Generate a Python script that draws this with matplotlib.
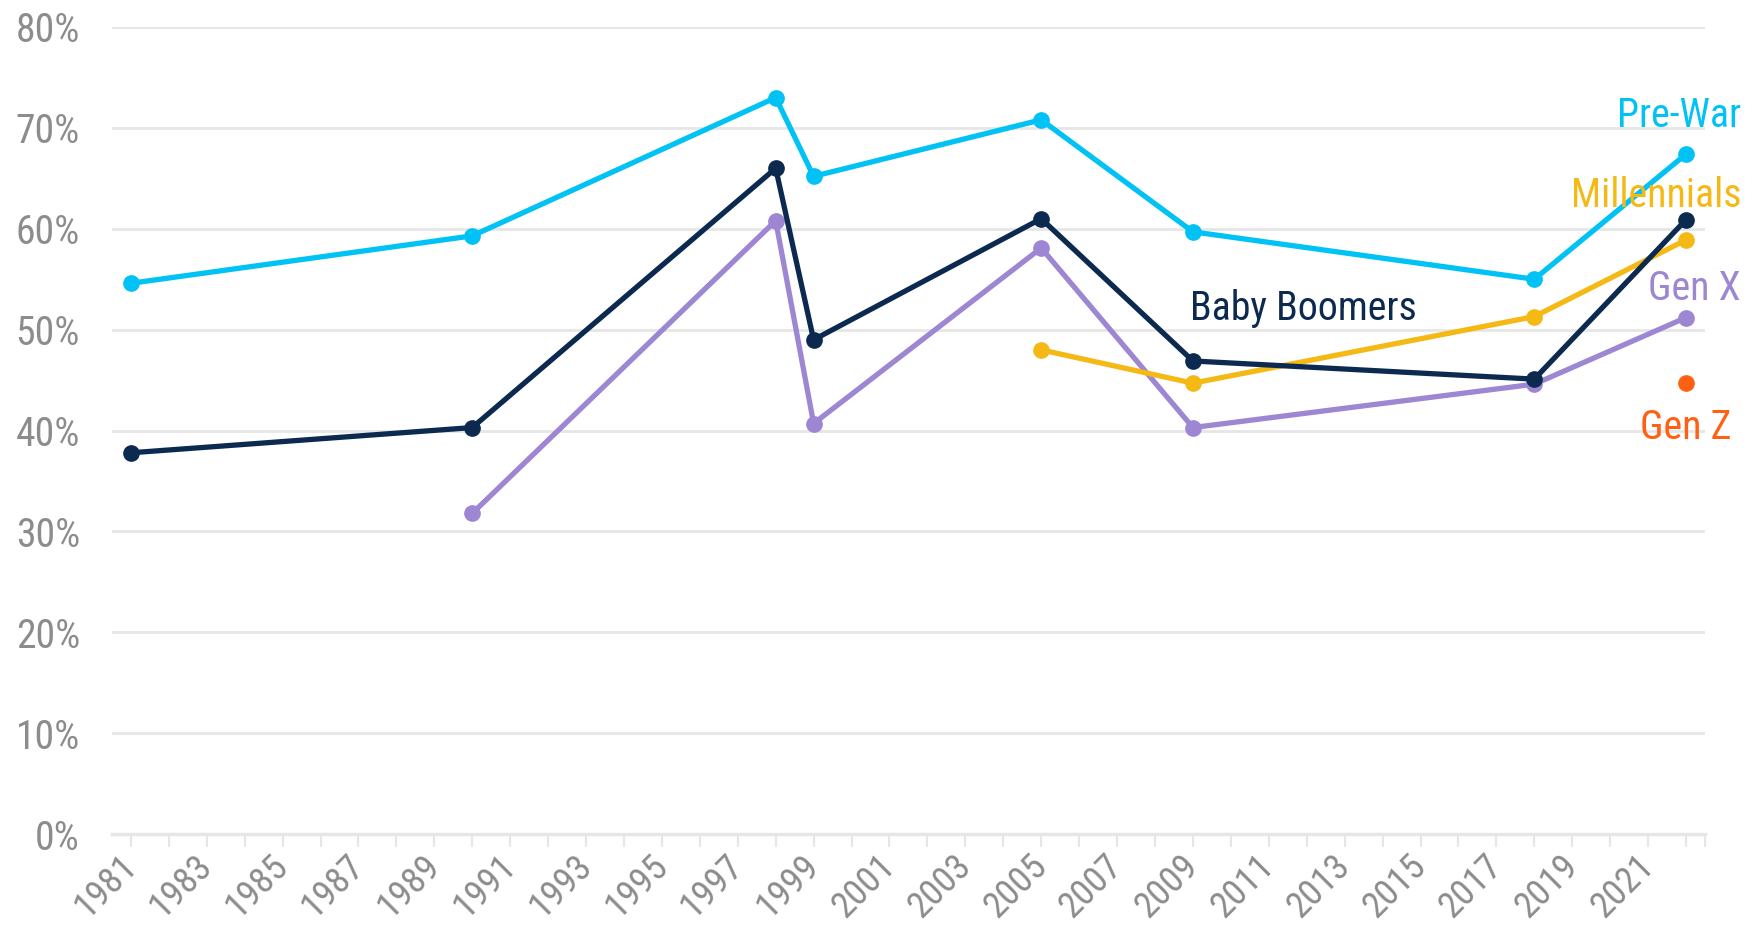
import matplotlib
matplotlib.use("Agg")
import matplotlib.pyplot as plt
from matplotlib.ticker import FuncFormatter, MultipleLocator

plt.rcParams["font.family"] = ["Roboto Condensed", "Roboto", "DejaVu Sans"]

years_all = [1981, 1990, 1998, 1999, 2005, 2009, 2018, 2022]

pre_war = [54.6, 59.3, 73.0, 65.2, 70.8, 59.7, 55.0, 67.4]
boomers = [37.8, 40.3, 66.0, 49.0, 61.0, 46.9, 45.1, 60.9]

genx_years = [1990, 1998, 1999, 2005, 2009, 2018, 2022]
gen_x = [31.8, 60.8, 40.7, 58.1, 40.3, 44.6, 51.2]

mill_years = [2005, 2009, 2018, 2022]
millennials = [48.0, 44.7, 51.3, 58.9]

genz_years = [2022]
gen_z = [44.7]

c_pre = "#00C2F5"
c_boom = "#0C2A4F"
c_genx = "#9D86D2"
c_mill = "#F5B915"
c_genz = "#FF6011"
grey = "#8C8C8C"
grid_c = "#E6E6E6"

fig = plt.figure(figsize=(17.57, 9.31), dpi=100)
ax = fig.add_axes([0.0637, 0.104, 0.9067, 0.867])

kw = dict(linewidth=3.8, marker="o", markersize=11, solid_joinstyle="round")
ax.plot(years_all, pre_war, color=c_pre, **kw)
ax.plot(genx_years, gen_x, color=c_genx, **kw)
ax.plot(mill_years, millennials, color=c_mill, **kw)
ax.plot(years_all, boomers, color=c_boom, **kw)
ax.plot(genz_years, gen_z, color=c_genz, linestyle="none", marker="o", markersize=11)

ax.set_xlim(1980.5, 2022.5)
ax.set_ylim(0, 80)
ax.yaxis.set_major_locator(MultipleLocator(10))
ax.yaxis.set_major_formatter(FuncFormatter(lambda v, p: f"{v:.0f}%"))
ax.set_xticks(range(1981, 2022, 2))
ax.set_xticks(list(range(1981, 2023)) + [2022.5], minor=True)
ax.grid(axis="y", color=grid_c, linewidth=2)
ax.set_axisbelow(True)
for s in ["top", "right", "left"]:
    ax.spines[s].set_visible(False)
ax.spines["bottom"].set_color(grid_c)
ax.spines["bottom"].set_linewidth(2.5)

ax.tick_params(axis="y", length=0, pad=23, labelsize=28.5, labelcolor=grey)
ax.tick_params(axis="x", which="both", length=9, width=1.5, color=grid_c,
               labelsize=26.5, labelcolor=grey, pad=10)
plt.setp(ax.get_xticklabels(), rotation=45, ha="right", va="center",
         rotation_mode="anchor")

fs = 28.7
ax.text(2023.45, 71.2, "Pre-War", color=c_pre, fontsize=fs, ha="right", va="center")
ax.text(2023.45, 63.3, "Millennials", color=c_mill, fontsize=fs, ha="right", va="center")
ax.text(2023.45, 54.1, "Gen X", color=c_genx, fontsize=fs, ha="right", va="center")
ax.text(2023.2, 40.3, "Gen Z", color=c_genz, fontsize=fs, ha="right", va="center")
ax.text(2011.9, 52.1, "Baby Boomers", color=c_boom, fontsize=fs, ha="center", va="center")

fig.savefig("out.png", dpi=100)
